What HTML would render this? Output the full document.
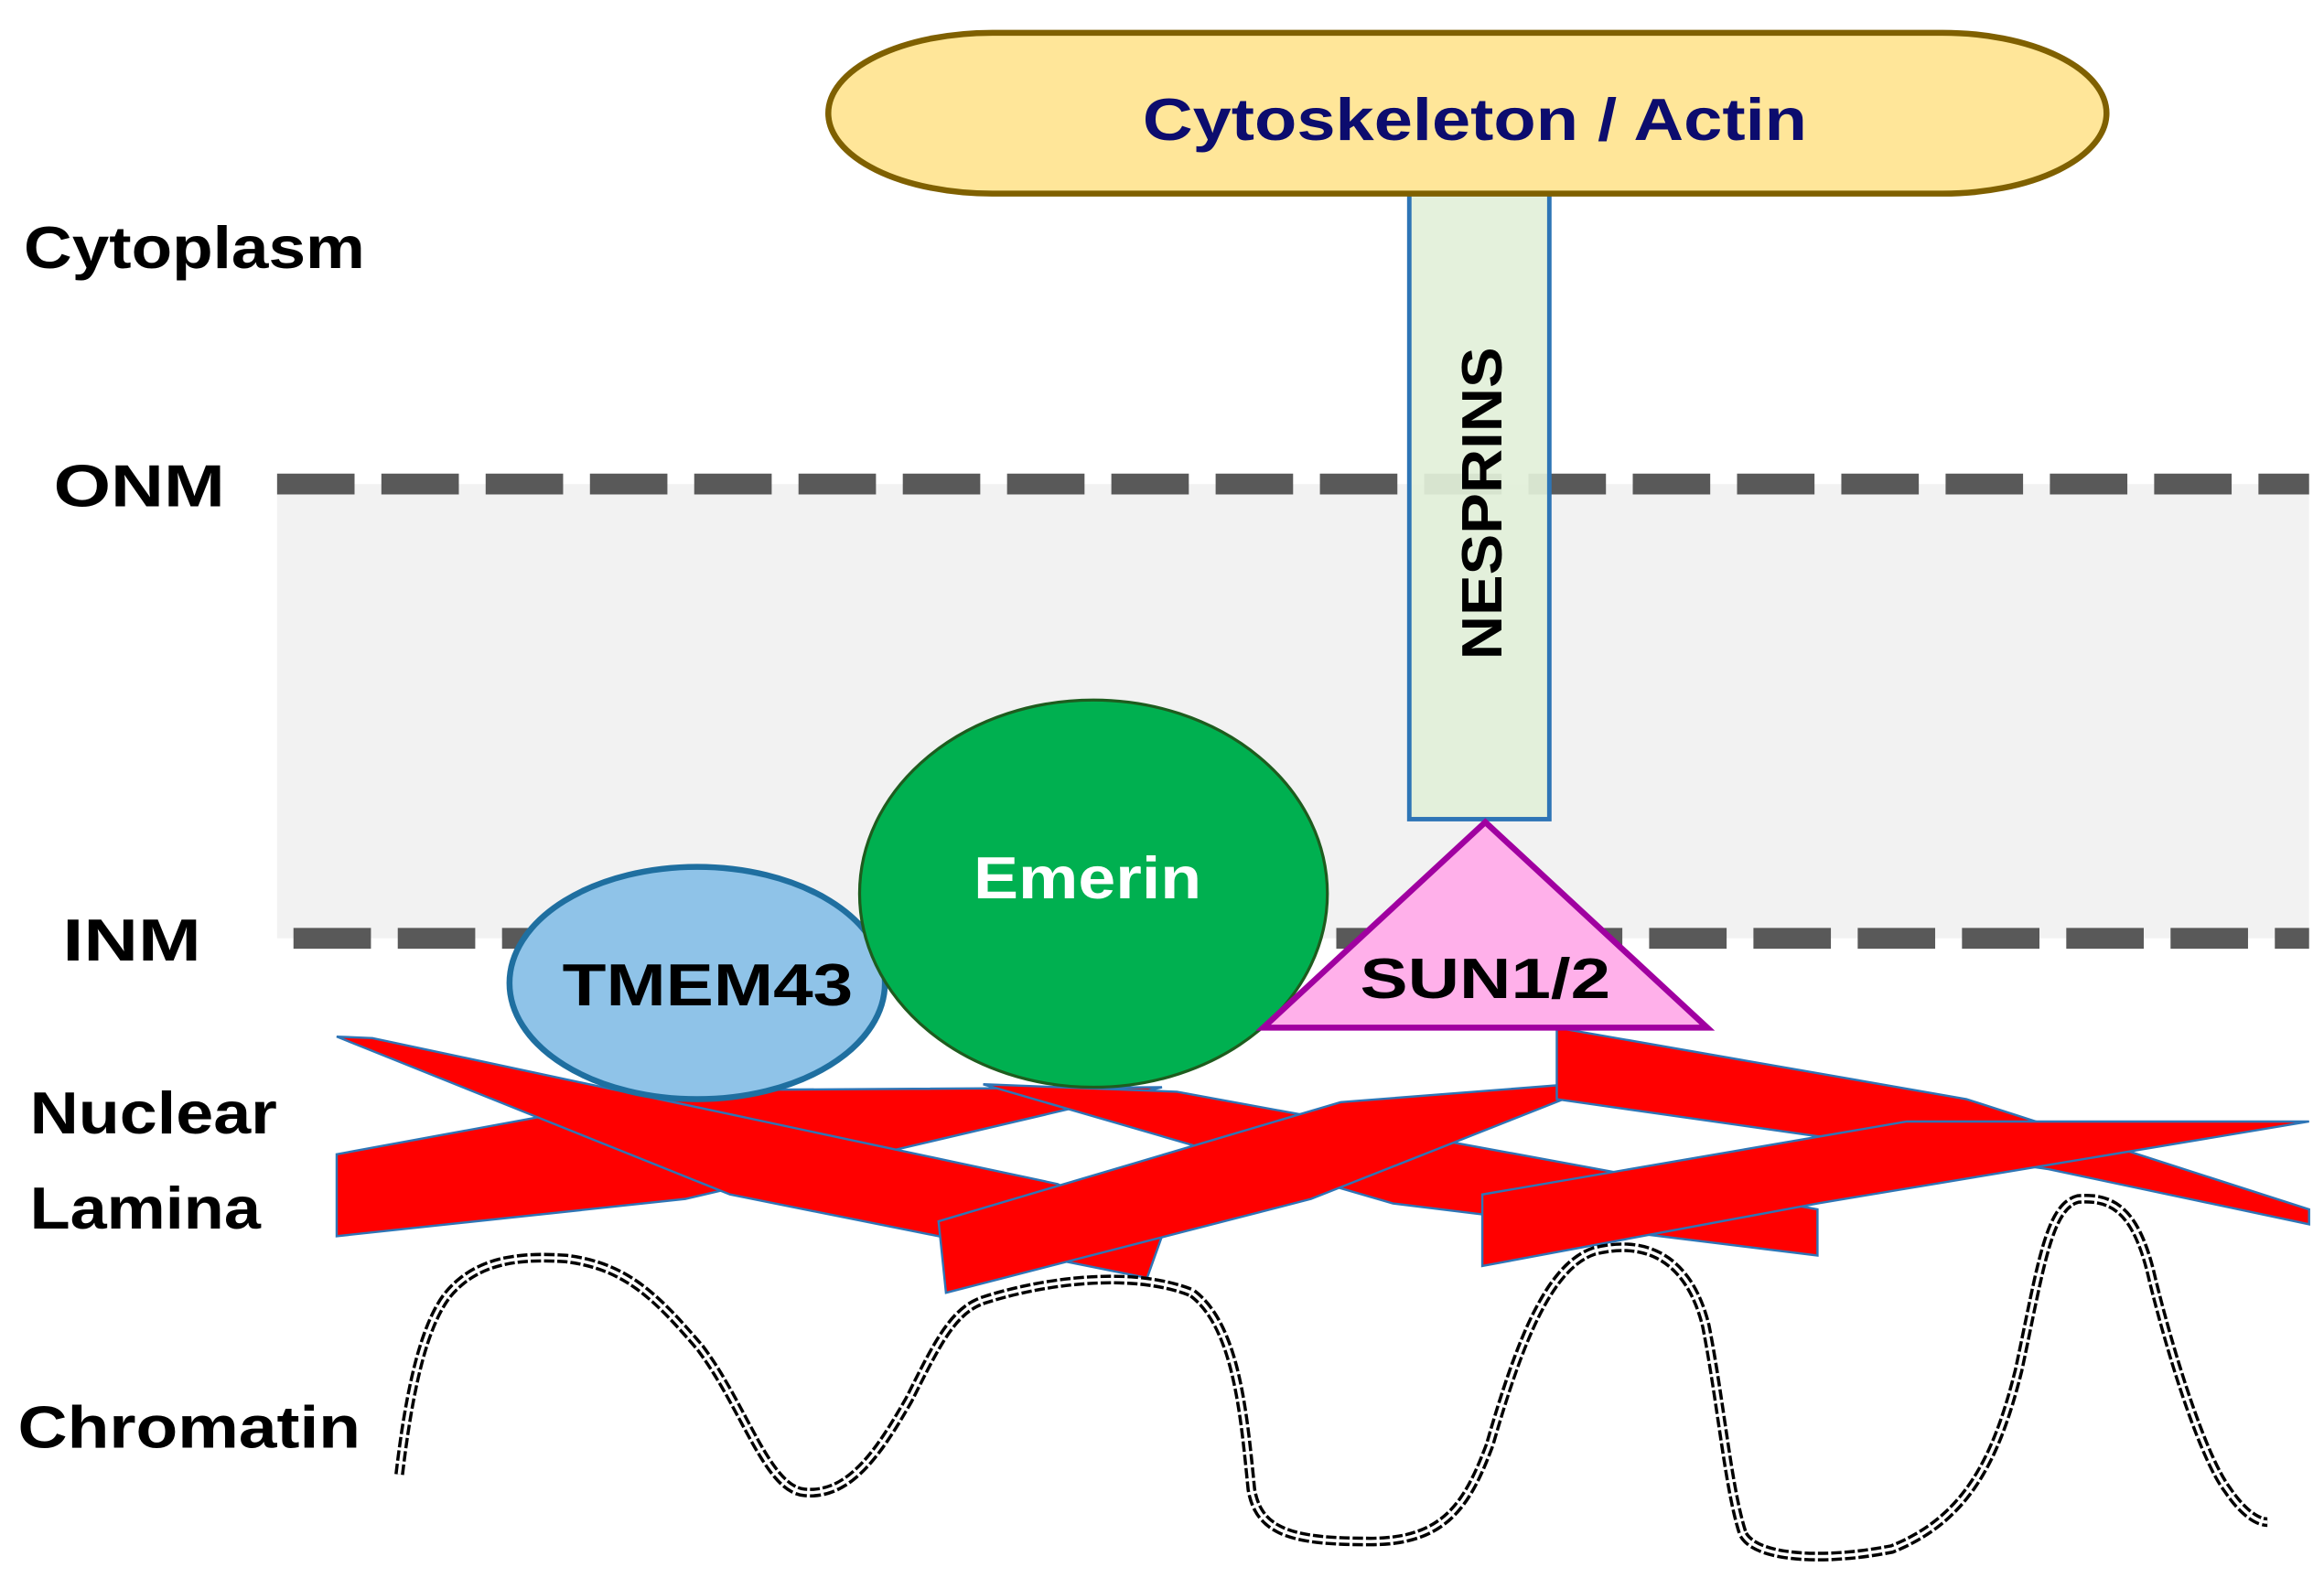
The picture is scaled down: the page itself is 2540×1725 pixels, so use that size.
<!DOCTYPE html>
<html><head><meta charset="utf-8"><style>
html,body{margin:0;padding:0;background:#fff;}
svg{display:block;}
text{font-family:"Liberation Sans",sans-serif;font-weight:bold;}
</style></head><body>
<svg width="2540" height="1725" viewBox="0 0 1560 1059.5" preserveAspectRatio="none" xmlns="http://www.w3.org/2000/svg">
<rect x="186" y="325" width="1364" height="305" fill="#f2f2f2"/>
<line x1="186" y1="325" x2="1550" y2="325" stroke="#595959" stroke-width="14" stroke-dasharray="52 18"/>
<line x1="197" y1="630" x2="1550" y2="630" stroke="#595959" stroke-width="14" stroke-dasharray="52 18"/>
<rect x="946" y="130" width="94" height="420" fill="#e2f0d9" stroke="#2e75b6" stroke-width="3" fill-opacity="0.92"/>
<text x="0" y="0" font-size="38" text-anchor="middle" transform="translate(1008,338) rotate(-90)" textLength="210" lengthAdjust="spacingAndGlyphs">NESPRINS</text>
<rect x="556" y="22" width="858" height="108" rx="110" ry="54" fill="#ffe699" stroke="#7f6000" stroke-width="4"/>
<text x="990" y="94" font-size="40" fill="#0c0c6e" text-anchor="middle" textLength="446" lengthAdjust="spacingAndGlyphs">Cytoskeleton / Actin</text>
<g font-size="40" fill="#000">
<text x="16" y="180" textLength="229" lengthAdjust="spacingAndGlyphs">Cytoplasm</text>
<text x="36" y="340" textLength="115" lengthAdjust="spacingAndGlyphs">ONM</text>
<text x="42" y="645" textLength="93" lengthAdjust="spacingAndGlyphs">INM</text>
<text x="20" y="761" textLength="166" lengthAdjust="spacingAndGlyphs">Nuclear</text>
<text x="20" y="825" textLength="155" lengthAdjust="spacingAndGlyphs">Lamina</text>
<text x="12" y="972" textLength="230" lengthAdjust="spacingAndGlyphs">Chromatin</text>
</g>
<g fill="#ff0000" stroke="#2e75b6" stroke-width="1.5">
<polygon points="226,775 460,732 780,730 460,805 226,830"/>
<polygon points="226,696 250,697 710,795 780,830 770,858 490,802"/>
<polygon points="660,728 790,733 1220,812 1220,843 935,808"/>
<polygon points="630,820 900,740 1080,726 880,805 635,868"/>
<polygon points="1045,690 1320,738 1550,812 1550,822 1375,785 1045,738"/>
<polygon points="995,802 1280,753 1550,753 1220,808 995,850"/>
</g>
<ellipse cx="468" cy="660" rx="126" ry="78" fill="#8fc3e8" stroke="#1f6fa0" stroke-width="4"/>
<text x="475" y="675" font-size="40" text-anchor="middle" textLength="195" lengthAdjust="spacingAndGlyphs">TMEM43</text>
<ellipse cx="734" cy="600" rx="157" ry="130" fill="#00b050" stroke="#1e5c1e" stroke-width="2"/>
<text x="730" y="603" font-size="40" fill="#fff" text-anchor="middle" textLength="153" lengthAdjust="spacingAndGlyphs">Emerin</text>
<polygon points="997,552 848,690 1146,690" fill="#ffb0ea" stroke="#a000a0" stroke-width="4"/>
<text x="997" y="670" font-size="38" text-anchor="middle" textLength="168" lengthAdjust="spacingAndGlyphs">SUN1/2</text>
<path id="chr" d="M268,990 C275,930 285,890 300,870 C320,845 350,843 380,845 C420,850 440,870 470,905 C500,945 515,1000 540,1002 C570,1005 590,975 610,940 C630,900 640,880 660,873 C700,860 760,852 800,868 C830,890 835,950 840,1000 C845,1030 870,1035 920,1035 C970,1035 985,1010 1000,970 C1020,900 1040,850 1070,840 C1110,830 1135,850 1145,890 C1155,940 1160,1000 1170,1030 C1180,1048 1230,1048 1270,1040 C1320,1020 1340,980 1355,920 C1370,850 1375,810 1395,805 C1420,803 1435,815 1445,860 C1460,920 1480,980 1495,1000 C1505,1015 1515,1022 1522,1022" fill="none" stroke="#000" stroke-width="6.5" stroke-dasharray="7 2"/>
<path d="M268,990 C275,930 285,890 300,870 C320,845 350,843 380,845 C420,850 440,870 470,905 C500,945 515,1000 540,1002 C570,1005 590,975 610,940 C630,900 640,880 660,873 C700,860 760,852 800,868 C830,890 835,950 840,1000 C845,1030 870,1035 920,1035 C970,1035 985,1010 1000,970 C1020,900 1040,850 1070,840 C1110,830 1135,850 1145,890 C1155,940 1160,1000 1170,1030 C1180,1048 1230,1048 1270,1040 C1320,1020 1340,980 1355,920 C1370,850 1375,810 1395,805 C1420,803 1435,815 1445,860 C1460,920 1480,980 1495,1000 C1505,1015 1515,1022 1522,1022" fill="none" stroke="#fff" stroke-width="2.2"/>
</svg>
</body></html>
